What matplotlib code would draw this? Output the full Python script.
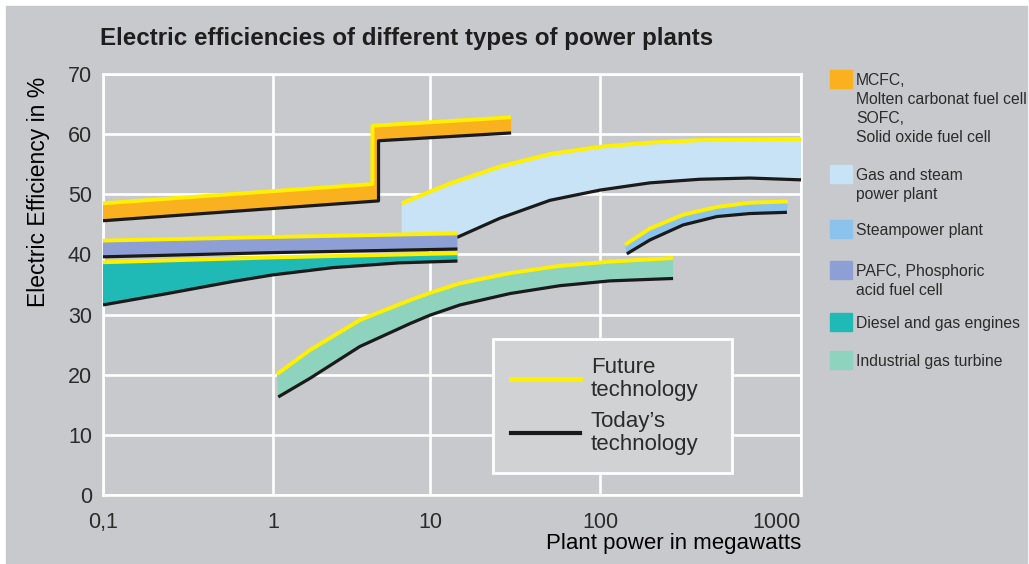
import numpy as np
import matplotlib
matplotlib.use('Agg')
import matplotlib.pyplot as plt
from matplotlib.lines import Line2D
from matplotlib.patches import Rectangle

plt.rcParams['font.family'] = ['Liberation Sans', 'DejaVu Sans']
plt.rcParams['text.color'] = '#2b2b2b'

# values (x in MW, y in %)
# MCFC / SOFC
mcfc_x_future = [0.1, 4.3, 4.3, 30]
mcfc_y_future = [48.5, 51.7, 61.4, 62.8]
mcfc_x_today = [0.1, 4.7, 4.7, 30]
mcfc_y_today = [45.6, 48.9, 58.9, 60.2]

# gas and steam power plant
gs_x_future = [6.6, 13.1, 25.7, 50.8, 100, 177, 314, 1000]
gs_y_future = [48.5, 51.8, 54.6, 56.7, 57.9, 58.6, 59.0, 59.2]
gs_x_today = [6.6, 14.6, 25.7, 50.8, 100, 177, 314, 557, 1000]
gs_y_today = [43.0, 42.9, 46.0, 49.0, 50.7, 51.9, 52.5, 52.7, 52.4]

# steampower plant
sp_x_future = [133, 177, 259, 382, 557, 861]
sp_y_future = [41.6, 44.3, 46.6, 47.9, 48.6, 48.8]
sp_x_today = [136, 177, 259, 382, 557, 851]
sp_y_today = [40.1, 42.4, 44.9, 46.3, 46.8, 47.0]

# PAFC
pafc_x = [0.1, 1, 14.5]
pafc_y_future = [42.3, 42.9, 43.5]
pafc_y_today = [39.6, 40.3, 40.9]

# diesel and gas engines
de_x_future = [0.1, 1, 14.5]
de_y_future = [38.7, 39.5, 40.2]
de_x_today = [0.1, 0.24, 0.58, 1, 2.4, 6.4, 14.5]
de_y_today = [31.6, 33.5, 35.5, 36.6, 37.8, 38.6, 38.9]

# industrial gas turbine
gt_x_future = [1.06, 1.72, 3.58, 7.46, 10, 15, 29.6, 58, 112, 231]
gt_y_future = [20.1, 24.1, 29.1, 32.4, 33.6, 35.2, 36.9, 38.1, 38.8, 39.4]
gt_x_today = [1.08, 1.72, 3.58, 7.46, 10, 15, 29.6, 58, 112, 231]
gt_y_today = [16.3, 19.4, 24.7, 28.5, 29.9, 31.6, 33.5, 34.8, 35.6, 36.0]

xticks = [0.1, 1, 10, 100, 1000]
xtick_labels = ['0,1', '1', '10', '100', '1000']
yticks = [0, 10, 20, 30, 40, 50, 60, 70]

legend_labels = ['MCFC,\nMolten carbonat fuel cell\nSOFC,\nSolid oxide fuel cell',
                 'Gas and steam\npower plant',
                 'Steampower plant',
                 'PAFC, Phosphoric\nacid fuel cell',
                 'Diesel and gas engines',
                 'Industrial gas turbine']

c_orange = '#f9b11f'
c_gs = '#c8e2f6'
c_sp = '#8cc3ec'
c_pafc = '#8e9fd5'
c_diesel = '#1fbab6'
c_turb = '#8dd3bd'
legend_colors = [c_orange, c_gs, c_sp, c_pafc, c_diesel, c_turb]
yellow = '#fff000'
black = '#1a1a1a'
bg = '#c7c9cc'

# the printed axis has uneven decades, so map log10 piecewise
dec = np.array([-1, 0, 1, 2, 3])
pos = np.array([0, 170, 327, 497, 698])


def fwd(x):
    return np.interp(np.log10(np.clip(x, 1e-9, None)), dec, pos)


def inv(p):
    return 10 ** np.interp(p, pos, dec)


fig = plt.figure(figsize=(10.29, 5.64), dpi=100, facecolor='white')
fig.patches.append(Rectangle((6 / 1029, 0), 1021 / 1029, 558 / 564,
                             transform=fig.transFigure, color=bg, zorder=-5))

ax = fig.add_axes([103 / 1029, 1 - 495 / 564, 698 / 1029, 421 / 564])
ax.set_facecolor(bg)
ax.set_xscale('function', functions=(fwd, inv))
ax.set_xlim(0.1, 1000)
ax.set_ylim(0, 70)


def band(xf, yf, xt, yt, color, z):
    ax.fill(np.concatenate([xf, xt[::-1]]), np.concatenate([yf, yt[::-1]]),
            color=color, lw=0, zorder=z)
    ax.plot(xt, yt, color=black, lw=2.3, zorder=z + 0.1,
            solid_capstyle='butt', solid_joinstyle='round')
    ax.plot(xf, yf, color=yellow, lw=2.8, zorder=z + 0.2,
            solid_capstyle='butt', solid_joinstyle='round')


band(gs_x_future, gs_y_future, gs_x_today, gs_y_today, c_gs, 3)
band(sp_x_future, sp_y_future, sp_x_today, sp_y_today, c_sp, 3)
band(gt_x_future, gt_y_future, gt_x_today, gt_y_today, c_turb, 3)
band(pafc_x, pafc_y_future, pafc_x, pafc_y_today, c_pafc, 4)
band(de_x_future, de_y_future, de_x_today, de_y_today, c_diesel, 4)
band(mcfc_x_future, mcfc_y_future, mcfc_x_today, mcfc_y_today, c_orange, 5)

ax.set_xticks(xticks)
ax.set_xticklabels(xtick_labels)
ax.xaxis.set_minor_locator(matplotlib.ticker.NullLocator())
ax.set_yticks(yticks)
ax.tick_params(length=0, labelsize=15.5, colors='#2b2b2b')
ax.tick_params(axis='x', pad=12)
ax.tick_params(axis='y', pad=8)
ax.get_xticklabels()[-1].set_ha('right')
ax.grid(True, color='white', lw=1.9)
ax.set_axisbelow(True)
for s in ax.spines.values():
    s.set_color('white')
    s.set_linewidth(1.9)

ax.set_ylabel('Electric Efficiency in %', fontsize=16.5, va='center')
ax.yaxis.set_label_coords(-0.093, 0.72)
ax.set_xlabel('Plant power in megawatts', fontsize=16, ha='right', va='center')
ax.xaxis.set_label_coords(1.0, -0.115)

fig.text(100 / 1029, 1 - 38 / 564, 'Electric efficiencies of different types of power plants',
         fontsize=17.4, fontweight='bold', va='center', color='#1e1e1e')

handles = [Line2D([], [], color=yellow, lw=3.5), Line2D([], [], color=black, lw=3)]
leg = ax.legend(handles, ['Future\ntechnology', 'Today\u2019s\ntechnology'],
                loc='lower left', bbox_to_anchor=(0.559, 0.052, 0.342, 0.3),
                mode='expand', borderaxespad=0, fontsize=16, handlelength=3.1,
                handletextpad=0.5, borderpad=0.8, labelspacing=0.45,
                fancybox=False, framealpha=1,
                facecolor='#d0d2d4', edgecolor='white')
leg.get_frame().set_linewidth(2)
leg.set_zorder(10)
for t in leg.get_texts():
    t.set_linespacing(1.15)

# side legend
sq_centers = [79, 174, 229, 270, 322, 360]
for lab, col, cy in zip(legend_labels, legend_colors, sq_centers):
    fig.patches.append(Rectangle((830 / 1029, 1 - (cy + 9) / 564), 22 / 1029, 18 / 564,
                                 transform=fig.transFigure, color=col, zorder=2))
    fig.text(856 / 1029, 1 - (cy - 6) / 564, lab, fontsize=11.3, va='top',
             linespacing=1.32, color='#2b2b2b')

fig.savefig('out.png', dpi=100, facecolor=fig.get_facecolor())
